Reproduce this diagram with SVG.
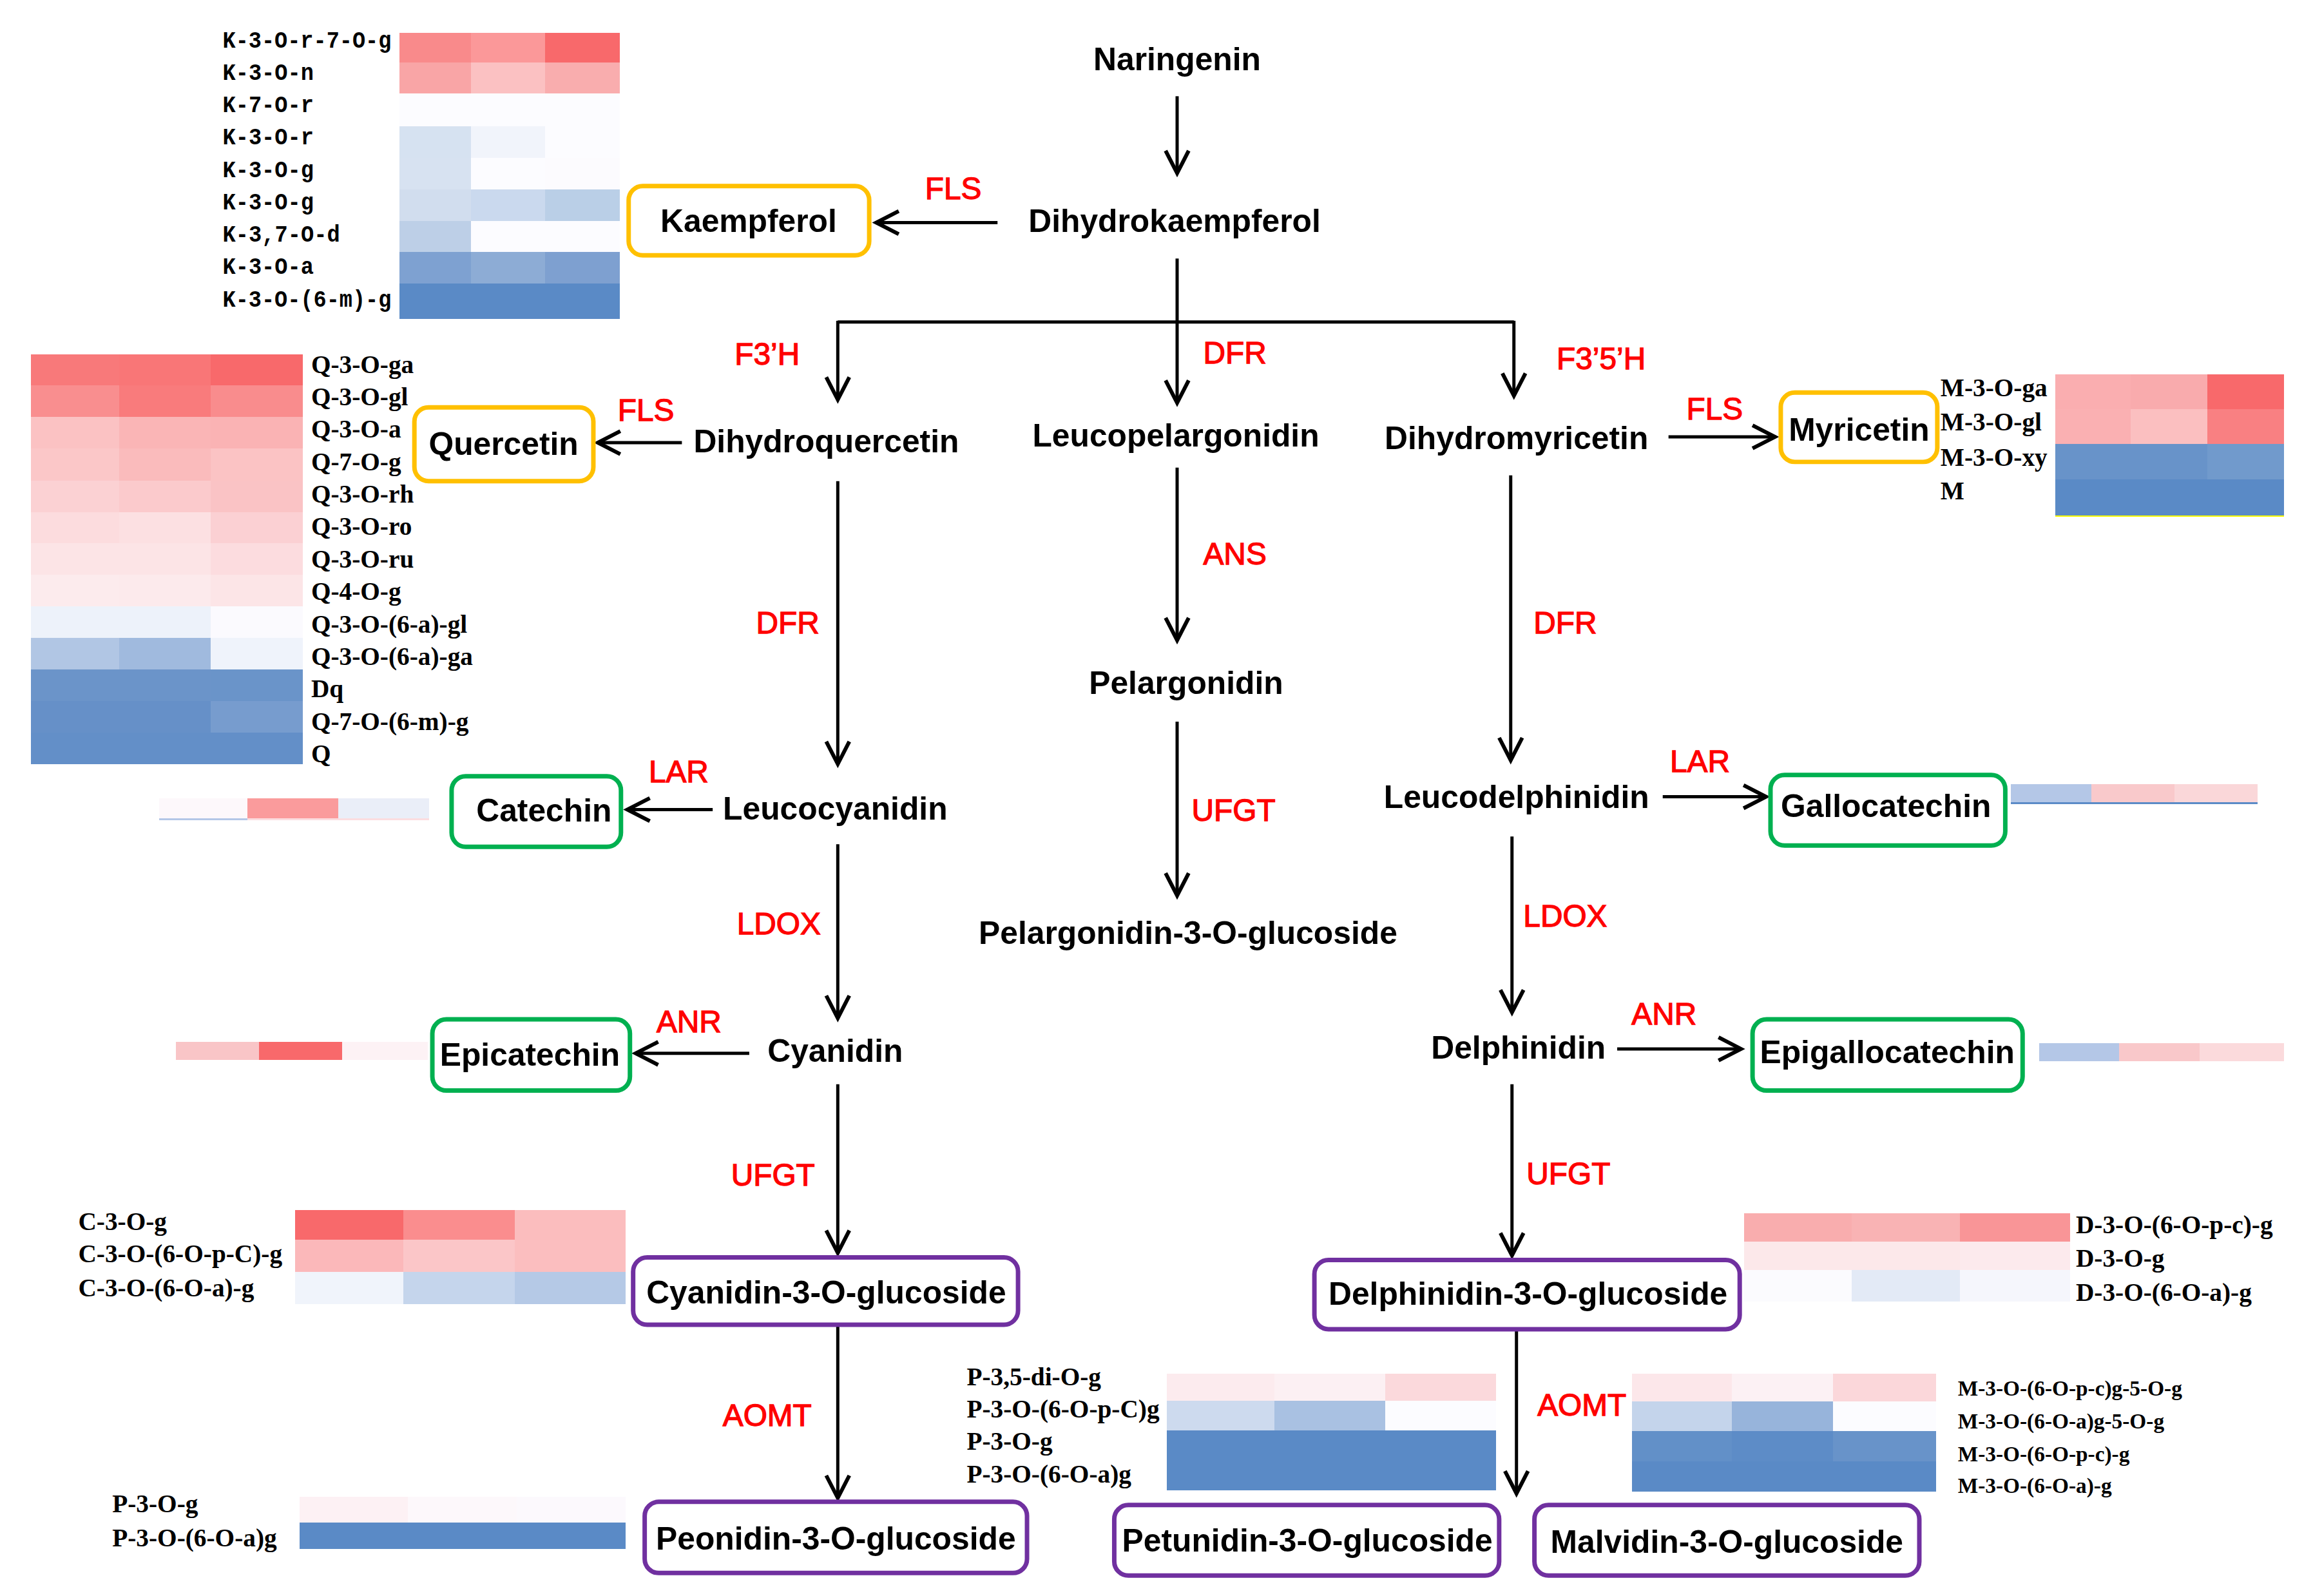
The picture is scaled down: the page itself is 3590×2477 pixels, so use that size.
<svg xmlns="http://www.w3.org/2000/svg" width="3590" height="2477" viewBox="0 0 3590 2477">
<defs>
<marker id="ah" markerUnits="userSpaceOnUse" markerWidth="48" markerHeight="48" refX="40" refY="22" orient="auto">
<path d="M5,4 L40,22 L5,40" fill="none" stroke="#000" stroke-width="6"/>
</marker>
<style>
.main{font-family:"Liberation Sans",Arial,sans-serif;font-weight:bold;font-size:50px;fill:#000;text-anchor:middle;dominant-baseline:central}
.enz{font-family:"Liberation Sans",Arial,sans-serif;font-weight:normal;font-size:48px;fill:#FF0000;stroke:#FF0000;stroke-width:1.3;text-anchor:middle;dominant-baseline:central}
.box{fill:#fff;stroke-width:7}
.or{stroke:#FFC000}.gr{stroke:#00B050}.pu{stroke:#7030A0}
.lk{font-family:"Liberation Mono","Courier New",monospace;font-weight:bold;font-size:38px;fill:#000;dominant-baseline:central}
.lt{font-family:"Liberation Serif","Times New Roman",serif;font-weight:bold;font-size:39.5px;fill:#000;dominant-baseline:central}
.lm{font-family:"Liberation Serif","Times New Roman",serif;font-weight:bold;font-size:33.5px;fill:#000;dominant-baseline:central}
.ln{stroke:#000;stroke-width:5;fill:none}
.hm rect{shape-rendering:crispEdges}
</style>
</defs>
<rect width="3590" height="2477" fill="#fff"/>
<g transform="scale(0.99565)">
<g id="connectors">
<line class="ln" x1="1835" y1="150" x2="1835" y2="270" marker-end="url(#ah)"/>
<line class="ln" x1="1555" y1="347" x2="1366" y2="347" marker-end="url(#ah)"/>
<line class="ln" x1="1835" y1="403" x2="1835" y2="628" marker-end="url(#ah)"/>
<line class="ln" x1="1306" y1="502" x2="2360" y2="502"/>
<line class="ln" x1="1306" y1="500" x2="1306" y2="623" marker-end="url(#ah)"/>
<line class="ln" x1="2360" y1="500" x2="2360" y2="617" marker-end="url(#ah)"/>
<line class="ln" x1="1063" y1="690" x2="932" y2="690" marker-end="url(#ah)"/>
<line class="ln" x1="2601" y1="681" x2="2767" y2="681" marker-end="url(#ah)"/>
<line class="ln" x1="1835" y1="729" x2="1835" y2="998" marker-end="url(#ah)"/>
<line class="ln" x1="1835" y1="1125" x2="1835" y2="1396" marker-end="url(#ah)"/>
<line class="ln" x1="1306" y1="750" x2="1306" y2="1191" marker-end="url(#ah)"/>
<line class="ln" x1="2355" y1="741" x2="2355" y2="1185" marker-end="url(#ah)"/>
<line class="ln" x1="1111" y1="1262" x2="978" y2="1262" marker-end="url(#ah)"/>
<line class="ln" x1="2592" y1="1242" x2="2753" y2="1242" marker-end="url(#ah)"/>
<line class="ln" x1="1306" y1="1316" x2="1306" y2="1587" marker-end="url(#ah)"/>
<line class="ln" x1="2357" y1="1304" x2="2357" y2="1578" marker-end="url(#ah)"/>
<line class="ln" x1="1168" y1="1642" x2="991" y2="1642" marker-end="url(#ah)"/>
<line class="ln" x1="2521" y1="1635" x2="2714" y2="1635" marker-end="url(#ah)"/>
<line class="ln" x1="1306" y1="1690" x2="1306" y2="1953" marker-end="url(#ah)"/>
<line class="ln" x1="2357" y1="1690" x2="2357" y2="1957" marker-end="url(#ah)"/>
<line class="ln" x1="1306" y1="2068" x2="1306" y2="2335" marker-end="url(#ah)"/>
<line class="ln" x1="2364" y1="2070" x2="2364" y2="2328" marker-end="url(#ah)"/>
</g>

<g id="enzymes">
<text class="enz" x="1486" y="294">FLS</text>
<text class="enz" x="1196" y="552">F3’H</text>
<text class="enz" x="1925" y="550">DFR</text>
<text class="enz" x="2496" y="559">F3’5’H</text>
<text class="enz" x="1007" y="639">FLS</text>
<text class="enz" x="2673" y="637">FLS</text>
<text class="enz" x="1925" y="863">ANS</text>
<text class="enz" x="1228" y="971">DFR</text>
<text class="enz" x="2440" y="971">DFR</text>
<text class="enz" x="1058" y="1203">LAR</text>
<text class="enz" x="2650" y="1187">LAR</text>
<text class="enz" x="1923" y="1263">UFGT</text>
<text class="enz" x="1214" y="1440">LDOX</text>
<text class="enz" x="2440" y="1428">LDOX</text>
<text class="enz" x="1074" y="1592">ANR</text>
<text class="enz" x="2594" y="1580">ANR</text>
<text class="enz" x="1205" y="1831">UFGT</text>
<text class="enz" x="2445" y="1829">UFGT</text>
<text class="enz" x="1196" y="2206">AOMT</text>
<text class="enz" x="2466" y="2190">AOMT</text>
</g>

<g id="naringenin"><text class="main" x="1835" y="92">Naringenin</text></g>
<g id="dihydrokaempferol"><text class="main" x="1831" y="345">Dihydrokaempferol</text></g>
<g id="dihydroquercetin"><text class="main" x="1288" y="688">Dihydroquercetin</text></g>
<g id="leucopelargonidin"><text class="main" x="1833" y="679">Leucopelargonidin</text></g>
<g id="dihydromyricetin"><text class="main" x="2364" y="683">Dihydromyricetin</text></g>
<g id="pelargonidin"><text class="main" x="1849" y="1065">Pelargonidin</text></g>
<g id="leucocyanidin"><text class="main" x="1302" y="1260">Leucocyanidin</text></g>
<g id="leucodelphinidin"><text class="main" x="2364" y="1242">Leucodelphinidin</text></g>
<g id="pelargonidin-3-o-glucoside"><text class="main" x="1852" y="1454">Pelargonidin-3-O-glucoside</text></g>
<g id="cyanidin"><text class="main" x="1302" y="1638">Cyanidin</text></g>
<g id="delphinidin"><text class="main" x="2367" y="1633">Delphinidin</text></g>

<g id="kaempferol"><rect class="box or" x="980" y="290" width="375" height="108" rx="22"/><text class="main" x="1167" y="344">Kaempferol</text></g>
<g id="quercetin"><rect class="box or" x="646" y="635" width="279" height="115" rx="22"/><text class="main" x="785" y="692">Quercetin</text></g>
<g id="myricetin"><rect class="box or" x="2776" y="612" width="244" height="108" rx="22"/><text class="main" x="2898" y="670">Myricetin</text></g>
<g id="catechin"><rect class="box gr" x="704" y="1210" width="264" height="110" rx="22"/><text class="main" x="848" y="1263">Catechin</text></g>
<g id="epicatechin"><rect class="box gr" x="674" y="1589" width="308" height="111" rx="22"/><text class="main" x="826" y="1644">Epicatechin</text></g>
<g id="gallocatechin"><rect class="box gr" x="2760" y="1208" width="366" height="110" rx="22"/><text class="main" x="2940" y="1256">Gallocatechin</text></g>
<g id="epigallocatechin"><rect class="box gr" x="2732" y="1589" width="421" height="111" rx="22"/><text class="main" x="2942" y="1640">Epigallocatechin</text></g>
<g id="cyanidin-3-o-glucoside"><rect class="box pu" x="987" y="1960" width="600" height="105" rx="22"/><text class="main" x="1288" y="2015">Cyanidin-3-O-glucoside</text></g>
<g id="delphinidin-3-o-glucoside"><rect class="box pu" x="2049" y="1964" width="663" height="108" rx="22"/><text class="main" x="2382" y="2017">Delphinidin-3-O-glucoside</text></g>
<g id="peonidin-3-o-glucoside"><rect class="box pu" x="1005" y="2341" width="596" height="111" rx="22"/><text class="main" x="1303" y="2398">Peonidin-3-O-glucoside</text></g>
<g id="petunidin-3-o-glucoside"><rect class="box pu" x="1737" y="2346" width="600" height="110" rx="22"/><text class="main" x="2038" y="2401">Petunidin-3-O-glucoside</text></g>
<g id="malvidin-3-o-glucoside"><rect class="box pu" x="2392" y="2346" width="600" height="110" rx="22"/><text class="main" x="2692" y="2403">Malvidin-3-O-glucoside</text></g>

<g id="heatmap-kaempferol" class="hm">
<rect x="623" y="51" width="111" height="46" fill="#F98A8B"/><rect x="734" y="51" width="116" height="46" fill="#FB9899"/><rect x="850" y="51" width="116" height="46" fill="#F8696B"/>
<rect x="623" y="97" width="111" height="49" fill="#F9A5A6"/><rect x="734" y="97" width="116" height="49" fill="#FBC1C2"/><rect x="850" y="97" width="116" height="49" fill="#F9ADAE"/>
<rect x="623" y="146" width="111" height="51" fill="#FCFCFF"/><rect x="734" y="146" width="116" height="51" fill="#FCFCFF"/><rect x="850" y="146" width="116" height="51" fill="#FCFCFF"/>
<rect x="623" y="197" width="111" height="49" fill="#D6E2F1"/><rect x="734" y="197" width="116" height="49" fill="#F1F4FB"/><rect x="850" y="197" width="116" height="49" fill="#FCFCFF"/>
<rect x="623" y="246" width="111" height="49" fill="#D7E2F1"/><rect x="734" y="246" width="116" height="49" fill="#FCFCFF"/><rect x="850" y="246" width="116" height="49" fill="#FCFBFE"/>
<rect x="623" y="295" width="111" height="49" fill="#D1DDEE"/><rect x="734" y="295" width="116" height="49" fill="#CAD9EE"/><rect x="850" y="295" width="116" height="49" fill="#BACFE7"/>
<rect x="623" y="344" width="111" height="49" fill="#BDCFE7"/><rect x="734" y="344" width="116" height="49" fill="#FCFCFF"/><rect x="850" y="344" width="116" height="49" fill="#FCFCFF"/>
<rect x="623" y="393" width="111" height="49" fill="#7EA1D1"/><rect x="734" y="393" width="116" height="49" fill="#8DACD5"/><rect x="850" y="393" width="116" height="49" fill="#7EA0D0"/>
<rect x="623" y="442" width="343" height="55" fill="#5A8AC6"/>
<text class="lk" x="347" y="64" textLength="263" lengthAdjust="spacingAndGlyphs">K-3-O-r-7-O-g</text>
<text class="lk" x="347" y="114" textLength="142" lengthAdjust="spacingAndGlyphs">K-3-O-n</text>
<text class="lk" x="347" y="165" textLength="142" lengthAdjust="spacingAndGlyphs">K-7-O-r</text>
<text class="lk" x="347" y="215" textLength="142" lengthAdjust="spacingAndGlyphs">K-3-O-r</text>
<text class="lk" x="347" y="266" textLength="142" lengthAdjust="spacingAndGlyphs">K-3-O-g</text>
<text class="lk" x="347" y="316" textLength="142" lengthAdjust="spacingAndGlyphs">K-3-O-g</text>
<text class="lk" x="347" y="367" textLength="183" lengthAdjust="spacingAndGlyphs">K-3,7-O-d</text>
<text class="lk" x="347" y="417" textLength="142" lengthAdjust="spacingAndGlyphs">K-3-O-a</text>
<text class="lk" x="347" y="468" textLength="263" lengthAdjust="spacingAndGlyphs">K-3-O-(6-m)-g</text>
</g>

<g id="heatmap-quercetin" class="hm">
<rect x="48" y="552" width="138" height="49" fill="#F8797A"/><rect x="186" y="552" width="142" height="49" fill="#F97677"/><rect x="328" y="552" width="144" height="49" fill="#F8696B"/>
<rect x="48" y="601" width="138" height="49" fill="#F98E8F"/><rect x="186" y="601" width="142" height="49" fill="#F97B7C"/><rect x="328" y="601" width="144" height="49" fill="#F98C8D"/>
<rect x="48" y="650" width="138" height="49" fill="#FBC2C3"/><rect x="186" y="650" width="142" height="49" fill="#FAB5B6"/><rect x="328" y="650" width="144" height="49" fill="#FAB3B4"/>
<rect x="48" y="699" width="138" height="50" fill="#FBC7C8"/><rect x="186" y="699" width="142" height="50" fill="#FABBBC"/><rect x="328" y="699" width="144" height="50" fill="#FBC3C4"/>
<rect x="48" y="749" width="138" height="49" fill="#FBD1D3"/><rect x="186" y="749" width="142" height="49" fill="#FBCACC"/><rect x="328" y="749" width="144" height="49" fill="#FAC3C5"/>
<rect x="48" y="798" width="138" height="49" fill="#FCDCDE"/><rect x="186" y="798" width="142" height="49" fill="#FCE0E2"/><rect x="328" y="798" width="144" height="49" fill="#FBD0D3"/>
<rect x="48" y="847" width="138" height="49" fill="#FCE4E6"/><rect x="186" y="847" width="142" height="49" fill="#FCE4E6"/><rect x="328" y="847" width="144" height="49" fill="#FCDCDF"/>
<rect x="48" y="896" width="138" height="49" fill="#FCEBED"/><rect x="186" y="896" width="142" height="49" fill="#FCEAEC"/><rect x="328" y="896" width="144" height="49" fill="#FCE5E7"/>
<rect x="48" y="945" width="138" height="49" fill="#EDF2FA"/><rect x="186" y="945" width="142" height="49" fill="#EDF2FA"/><rect x="328" y="945" width="144" height="49" fill="#FBFAFE"/>
<rect x="48" y="994" width="138" height="50" fill="#B1C6E4"/><rect x="186" y="994" width="142" height="50" fill="#A0BADE"/><rect x="328" y="994" width="144" height="50" fill="#EFF3FB"/>
<rect x="48" y="1044" width="138" height="49" fill="#6B94C9"/><rect x="186" y="1044" width="142" height="49" fill="#6B94C9"/><rect x="328" y="1044" width="144" height="49" fill="#6A94C9"/>
<rect x="48" y="1093" width="138" height="49" fill="#6690C8"/><rect x="186" y="1093" width="142" height="49" fill="#6690C8"/><rect x="328" y="1093" width="144" height="49" fill="#779CCE"/>
<rect x="48" y="1142" width="424" height="49" fill="#638FC8"/>
<text class="lt" x="485" y="568">Q-3-O-ga</text>
<text class="lt" x="485" y="619">Q-3-O-gl</text>
<text class="lt" x="485" y="669">Q-3-O-a</text>
<text class="lt" x="485" y="720">Q-7-O-g</text>
<text class="lt" x="485" y="770">Q-3-O-rh</text>
<text class="lt" x="485" y="821">Q-3-O-ro</text>
<text class="lt" x="485" y="872">Q-3-O-ru</text>
<text class="lt" x="485" y="922">Q-4-O-g</text>
<text class="lt" x="485" y="973">Q-3-O-(6-a)-gl</text>
<text class="lt" x="485" y="1023">Q-3-O-(6-a)-ga</text>
<text class="lt" x="485" y="1074">Dq</text>
<text class="lt" x="485" y="1125">Q-7-O-(6-m)-g</text>
<text class="lt" x="485" y="1175">Q</text>
</g>

<g id="heatmap-myricetin" class="hm">
<rect x="3204" y="584" width="117" height="54" fill="#FAAEB0"/><rect x="3321" y="584" width="120" height="54" fill="#F9ABAD"/><rect x="3441" y="584" width="119" height="54" fill="#F8696B"/>
<rect x="3204" y="638" width="117" height="54" fill="#FAB0B2"/><rect x="3321" y="638" width="120" height="54" fill="#FBBFC0"/><rect x="3441" y="638" width="119" height="54" fill="#F98082"/>
<rect x="3204" y="692" width="117" height="55" fill="#6893C9"/><rect x="3321" y="692" width="120" height="55" fill="#6893C9"/><rect x="3441" y="692" width="119" height="55" fill="#719ACC"/>
<rect x="3204" y="747" width="356" height="56" fill="#5A8AC6"/>
<rect x="3204" y="803" width="356" height="3" fill="#FFFF00"/>
<text class="lt" x="3025" y="605">M-3-O-ga</text>
<text class="lt" x="3025" y="658">M-3-O-gl</text>
<text class="lt" x="3025" y="713">M-3-O-xy</text>
<text class="lt" x="3025" y="765">M</text>
</g>

<g id="heatmap-catechin" class="hm">
<rect x="248" y="1244" width="138" height="32" fill="#FDF8FB"/><rect x="386" y="1244" width="141" height="32" fill="#FA9B9C"/><rect x="527" y="1244" width="142" height="32" fill="#EAEEF8"/>
<rect x="248" y="1276" width="138" height="3" fill="#B4C7E7"/><rect x="386" y="1276" width="283" height="3" fill="#FBDDE0"/>
</g>
<g id="heatmap-epicatechin" class="hm">
<rect x="274" y="1624" width="130" height="28" fill="#F9C5C7"/><rect x="404" y="1624" width="129" height="28" fill="#F8696B"/><rect x="533" y="1624" width="134" height="28" fill="#FDF2F5"/>
</g>
<g id="heatmap-gallocatechin" class="hm">
<rect x="3135" y="1222" width="125" height="28" fill="#B4C7E7"/><rect x="3260" y="1222" width="130" height="28" fill="#F9C9CB"/><rect x="3390" y="1222" width="129" height="28" fill="#FAD7D9"/>
<rect x="3135" y="1250" width="384" height="3" fill="#5B8BC7"/>
</g>
<g id="heatmap-epigallocatechin" class="hm">
<rect x="3179" y="1626" width="124" height="28" fill="#B4C7E7"/><rect x="3303" y="1626" width="126" height="28" fill="#F9C8CA"/><rect x="3429" y="1626" width="131" height="28" fill="#FBDADC"/>
</g>

<g id="heatmap-cyanidin-3-o-glucoside" class="hm">
<rect x="460" y="1886" width="169" height="46" fill="#F8696B"/><rect x="629" y="1886" width="173" height="46" fill="#FA8D8E"/><rect x="802" y="1886" width="173" height="46" fill="#FBBDBE"/>
<rect x="460" y="1932" width="169" height="51" fill="#FBB8BA"/><rect x="629" y="1932" width="173" height="51" fill="#FBC6C8"/><rect x="802" y="1932" width="173" height="51" fill="#FBBEBF"/>
<rect x="460" y="1983" width="169" height="50" fill="#F0F4FB"/><rect x="629" y="1983" width="173" height="50" fill="#C5D5EC"/><rect x="802" y="1983" width="173" height="50" fill="#B5C9E6"/>
<text class="lt" x="122" y="1904">C-3-O-g</text>
<text class="lt" x="122" y="1955">C-3-O-(6-O-p-C)-g</text>
<text class="lt" x="122" y="2008">C-3-O-(6-O-a)-g</text>
</g>

<g id="heatmap-peonidin-3-o-glucoside" class="hm">
<rect x="467" y="2333" width="169" height="40" fill="#FDF1F4"/><rect x="636" y="2333" width="170" height="40" fill="#FDF8FB"/><rect x="806" y="2333" width="169" height="40" fill="#FCF9FD"/>
<rect x="467" y="2373" width="508" height="42" fill="#5A8AC6"/>
<text class="lt" x="175" y="2344">P-3-O-g</text>
<text class="lt" x="175" y="2397">P-3-O-(6-O-a)g</text>
</g>

<g id="heatmap-petunidin-3-o-glucoside" class="hm">
<rect x="1819" y="2141" width="168" height="43" fill="#FCEBEE"/><rect x="1987" y="2141" width="172" height="43" fill="#FCF0F3"/><rect x="2159" y="2141" width="173" height="43" fill="#FBD9DC"/>
<rect x="1819" y="2184" width="168" height="46" fill="#CDDAEE"/><rect x="1987" y="2184" width="172" height="46" fill="#A9C1E2"/><rect x="2159" y="2184" width="173" height="46" fill="#FCFCFF"/>
<rect x="1819" y="2230" width="513" height="93" fill="#5A8AC6"/>
<text class="lt" x="1507" y="2146">P-3,5-di-O-g</text>
<text class="lt" x="1507" y="2197">P-3-O-(6-O-p-C)g</text>
<text class="lt" x="1507" y="2247">P-3-O-g</text>
<text class="lt" x="1507" y="2298">P-3-O-(6-O-a)g</text>
</g>

<g id="heatmap-malvidin-3-o-glucoside" class="hm">
<rect x="2544" y="2141" width="156" height="44" fill="#FCE7EA"/><rect x="2700" y="2141" width="157" height="44" fill="#FCF1F4"/><rect x="2857" y="2141" width="161" height="44" fill="#FBD7DA"/>
<rect x="2544" y="2185" width="156" height="46" fill="#C4D4EB"/><rect x="2700" y="2185" width="157" height="46" fill="#97B4DB"/><rect x="2857" y="2185" width="161" height="46" fill="#FCFCFF"/>
<rect x="2544" y="2231" width="156" height="47" fill="#6290C8"/><rect x="2700" y="2231" width="157" height="47" fill="#5D8CC7"/><rect x="2857" y="2231" width="161" height="47" fill="#6893C9"/>
<rect x="2544" y="2278" width="474" height="47" fill="#5A8AC6"/>
<text class="lm" x="3052" y="2164">M-3-O-(6-O-p-c)g-5-O-g</text>
<text class="lm" x="3052" y="2215">M-3-O-(6-O-a)g-5-O-g</text>
<text class="lm" x="3052" y="2266">M-3-O-(6-O-p-c)-g</text>
<text class="lm" x="3052" y="2316">M-3-O-(6-O-a)-g</text>
</g>

<g id="heatmap-delphinidin-3-o-glucoside" class="hm">
<rect x="2719" y="1891" width="168" height="44" fill="#F9ADAE"/><rect x="2887" y="1891" width="168" height="44" fill="#F9B3B4"/><rect x="3055" y="1891" width="172" height="44" fill="#F99597"/>
<rect x="2719" y="1935" width="168" height="45" fill="#FCE8EA"/><rect x="2887" y="1935" width="168" height="45" fill="#FCE8EA"/><rect x="3055" y="1935" width="172" height="45" fill="#FCEAED"/>
<rect x="2719" y="1980" width="168" height="49" fill="#FBFBFE"/><rect x="2887" y="1980" width="168" height="49" fill="#E3EAF6"/><rect x="3055" y="1980" width="172" height="49" fill="#F5F6FC"/>
<text class="lt" x="3236" y="1909">D-3-O-(6-O-p-c)-g</text>
<text class="lt" x="3236" y="1962">D-3-O-g</text>
<text class="lt" x="3236" y="2015">D-3-O-(6-O-a)-g</text>
</g>
</g>
</svg>
